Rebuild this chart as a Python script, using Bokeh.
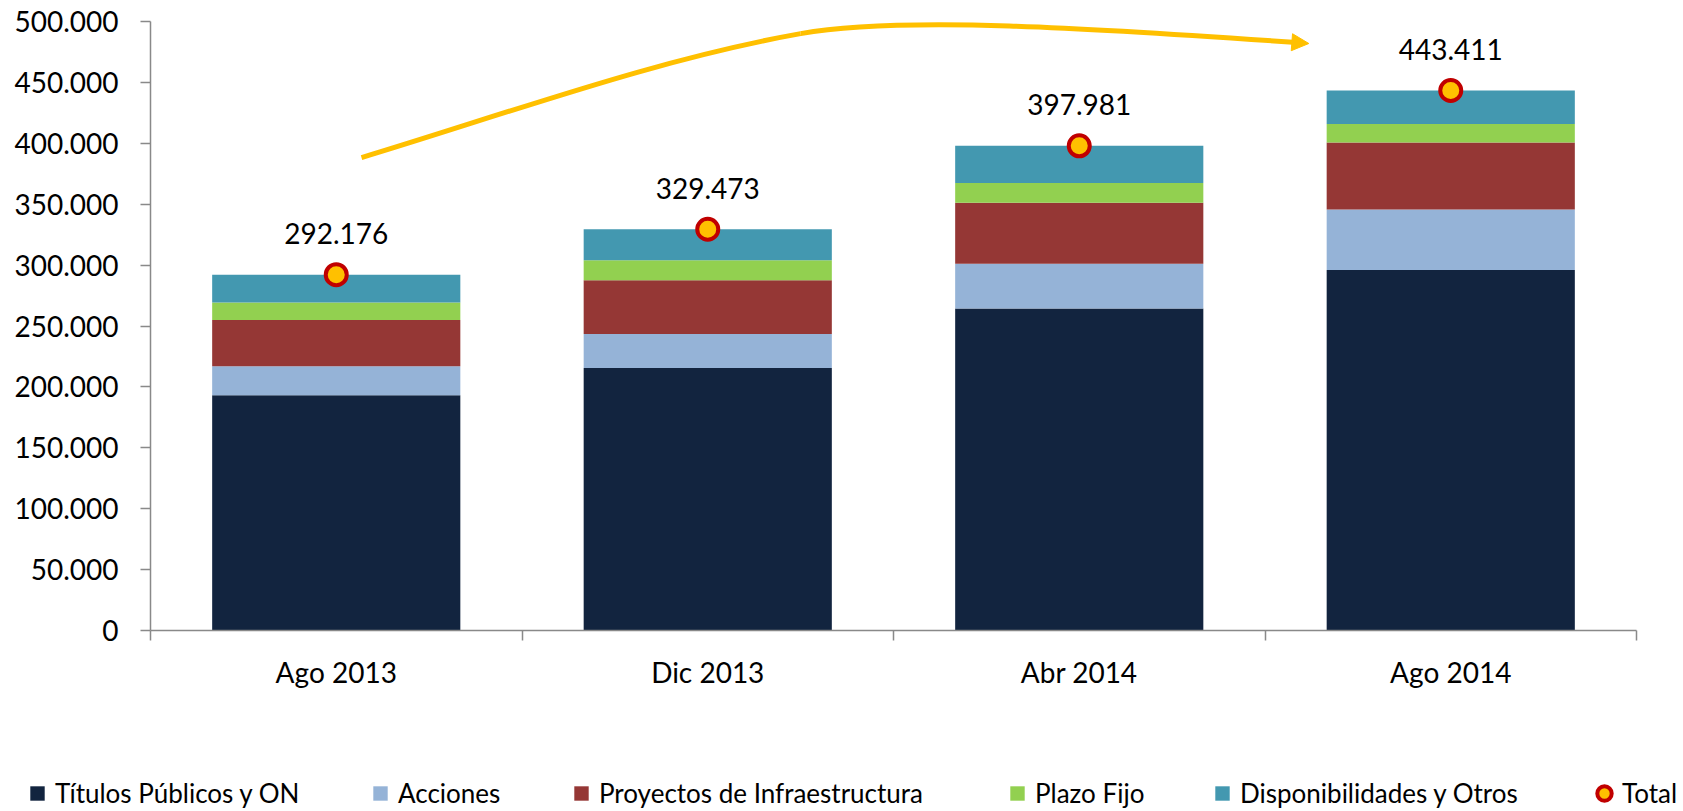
import numpy as np
from bokeh.plotting import figure
from bokeh.models import (ColumnDataSource, Range1d, FixedTicker, Legend, LegendItem,
                          Arrow, NormalHead)
from bokeh.core.properties import value
from bokeh.embed import file_html
from bokeh.resources import INLINE

# ---------------- data ----------------
categories = ["Ago 2013", "Dic 2013", "Abr 2014", "Ago 2014"]
series_names = ["Títulos Públicos y ON", "Acciones", "Proyectos de Infraestructura",
                "Plazo Fijo", "Disponibilidades y Otros"]
titulos = [193100, 215600, 264400, 296100]
acciones = [23900, 27900, 36700, 49700]
proyectos = [38000, 44200, 50100, 55000]
plazo_fijo = [14300, 16400, 16200, 15100]
disponibilidades = [22876, 25373, 30581, 27511]
totals = [292176, 329473, 397981, 443411]
y_ticks = list(range(0, 500001, 50000))

# decorative growth arrow: two cubic Bezier segments (x in category units, y in value units)
arrow_seg_x0 = [0.568, 1.750]
arrow_seg_y0 = [388300, 490100]
arrow_seg_cx0 = [0.961, 2.019]
arrow_seg_cy0 = [424500, 504800]
arrow_seg_cx1 = [1.357, 2.536]
arrow_seg_cy1 = [468800, 494500]
arrow_seg_x1 = [1.750, 3.075]
arrow_seg_y1 = [490100, 483000]
arrow_tip = (3.118, 482000)

colors = ["#12243F", "#95B3D7", "#953735", "#92D050", "#4398B0"]
FONT = "Lato"

# ---------------- main chart ----------------
centers = np.arange(len(categories)) + 0.5
keys = ["titulos", "acciones", "proyectos", "plazo", "disp"]
source = ColumnDataSource(dict(x=centers, titulos=titulos, acciones=acciones,
                               proyectos=proyectos, plazo=plazo_fijo, disp=disponibilidades))

p = figure(width=1683, height=770, output_backend="svg", toolbar_location=None,
           x_range=Range1d(0, len(categories)), y_range=Range1d(0, 505000),
           min_border_left=150, min_border_right=47, min_border_top=15, min_border_bottom=140)
p.outline_line_color = None
p.xgrid.visible = False
p.ygrid.visible = False
p.background_fill_color = "white"

bars = p.vbar_stack(keys, x="x", width=0.668, source=source, color=colors, line_color=None)

# growth arrow
p.bezier(x0=arrow_seg_x0, y0=arrow_seg_y0, x1=arrow_seg_x1, y1=arrow_seg_y1,
         cx0=arrow_seg_cx0, cy0=arrow_seg_cy0, cx1=arrow_seg_cx1, cy1=arrow_seg_cy1,
         line_color="#FFC000", line_width=5)
p.add_layout(Arrow(end=NormalHead(size=17, fill_color="#FFC000", line_color="#FFC000", line_width=1),
                   x_start=arrow_seg_x1[-1], y_start=arrow_seg_y1[-1],
                   x_end=arrow_tip[0], y_end=arrow_tip[1],
                   line_color="#FFC000", line_width=5))

# total markers
tot = p.scatter(x=centers, y=totals, size=21, marker="circle", fill_color="#FFC000",
                line_color="#C00000", line_width=4)

labels = [f"{v:,}".replace(",", ".") for v in totals]
p.text(x=centers, y=totals, text=labels, text_font=value(FONT), text_font_size="28px",
       text_align="center", text_baseline="alphabetic", y_offset=-41, text_color="black")

# axes
xa = p.xaxis[0]
xa.ticker = FixedTicker(ticks=list(centers), minor_ticks=list(range(len(categories) + 1)))
xa.major_label_overrides = {float(c): cat for c, cat in zip(centers, categories)}
xa.major_tick_out = 0
xa.major_tick_in = 0
xa.minor_tick_out = 10
xa.minor_tick_in = 0
xa.minor_tick_line_color = "#898989"
xa.minor_tick_line_width = 1.5
xa.axis_line_color = "#898989"
xa.axis_line_width = 1.5
xa.major_label_text_font = FONT
xa.major_label_text_font_size = "28px"
xa.major_label_text_color = "black"
xa.major_label_standoff = 14
xa.bounds = (0, len(categories))

ya = p.yaxis[0]
ya.ticker = FixedTicker(ticks=y_ticks)
ya.major_label_overrides = {t: f"{t:,}".replace(",", ".") for t in y_ticks}
ya.major_tick_out = 10
ya.major_tick_in = 0
ya.minor_tick_out = 0
ya.minor_tick_in = 0
ya.major_tick_line_color = "#898989"
ya.major_tick_line_width = 1.5
ya.axis_line_color = "#898989"
ya.axis_line_width = 1.5
ya.major_label_text_font = FONT
ya.major_label_text_font_size = "28px"
ya.major_label_text_color = "black"
ya.major_label_standoff = 22
ya.bounds = (0, 500000)

# ---------------- legend strip (separate root, frame spans full width) ----------------
lg = figure(width=1683, height=41, output_backend="svg", toolbar_location=None,
            x_range=Range1d(0, 1), y_range=Range1d(0, 1), x_axis_type=None, y_axis_type=None,
            min_border_left=0, min_border_right=0, min_border_top=0, min_border_bottom=0)
lg.outline_line_color = None
lg.xgrid.visible = False
lg.ygrid.visible = False

# swatch renderers sit outside the visible range; they only supply legend glyphs
swatches = [lg.scatter(x=[-5], y=[-5], marker="square", fill_color=c, line_color=None)
            for c in colors]
total_swatch = lg.scatter(x=[-5], y=[-5], marker="circle", fill_color="#FFC000",
                          line_color="#C00000", line_width=4)
legend_names = series_names + ["Total"]
legend_renderers = swatches + [total_swatch]
legend_x = [19, 362, 563, 999, 1204, 1586]
for name, r, lx in zip(legend_names, legend_renderers, legend_x):
    lg.add_layout(Legend(items=[LegendItem(label=name, renderers=[r])], orientation="horizontal",
                         location=(lx, 0), glyph_width=36, glyph_height=36, label_standoff=0,
                         padding=0, margin=0, border_line_color=None, background_fill_alpha=0,
                         label_text_font=FONT, label_text_font_size="26px",
                         label_text_color="black"), "center")

open("out.html", "w").write(file_html([p, lg], INLINE))
